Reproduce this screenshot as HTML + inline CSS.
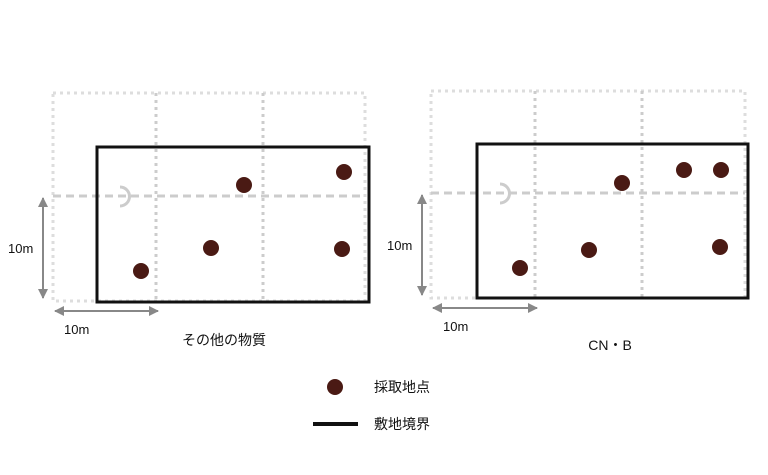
<!DOCTYPE html>
<html><head><meta charset="utf-8"><style>
html,body{margin:0;padding:0;background:#fff;width:768px;height:475px;overflow:hidden}
svg text{font-family:"Liberation Sans","Noto Sans CJK JP",sans-serif;fill:#111}
</style></head><body>
<svg width="768" height="475" viewBox="0 0 768 475" xmlns="http://www.w3.org/2000/svg">
<defs>
<marker id="ah" viewBox="0 0 10 10" refX="9" refY="5" markerWidth="5" markerHeight="5" orient="auto-start-reverse"><path d="M0,0 L10,5 L0,10 z" fill="#888"/></marker>
</defs>
<!-- Left diagram -->
<g>
<rect x="53" y="93" width="312" height="208" fill="none" stroke="#ddd" stroke-width="3" stroke-dasharray="3,4"/>
<line x1="156" y1="93" x2="156" y2="301" stroke="#ccc" stroke-width="3" stroke-dasharray="3,4"/>
<line x1="263" y1="93" x2="263" y2="301" stroke="#ccc" stroke-width="3" stroke-dasharray="3,4"/>
<line x1="53" y1="196" x2="365" y2="196" stroke="#ccc" stroke-width="3" stroke-dasharray="8,5"/>
<rect x="97" y="147" width="272" height="155" fill="none" stroke="#111" stroke-width="3"/>
<path d="M120,187 A9,9 0 0 1 120,206" fill="none" stroke="#ccc" stroke-width="3"/>
<g fill="#4a1a14">
<circle cx="141" cy="271" r="8"/><circle cx="211" cy="248" r="8"/><circle cx="244" cy="185" r="8"/><circle cx="344" cy="172" r="8"/><circle cx="342" cy="249" r="8"/>
</g>
<line x1="43" y1="198" x2="43" y2="298" stroke="#888" stroke-width="2" marker-start="url(#ah)" marker-end="url(#ah)"/>
<line x1="55" y1="311" x2="158" y2="311" stroke="#888" stroke-width="2" marker-start="url(#ah)" marker-end="url(#ah)"/>
<text x="8" y="253" font-size="13">10m</text>
<text x="64" y="334" font-size="13">10m</text>
<text x="224" y="345" font-size="14" text-anchor="middle">その他の物質</text>
</g>
<!-- Right diagram -->
<g>
<rect x="431" y="91" width="314" height="207" fill="none" stroke="#ddd" stroke-width="3" stroke-dasharray="3,4"/>
<line x1="535" y1="91" x2="535" y2="298" stroke="#ccc" stroke-width="3" stroke-dasharray="3,4"/>
<line x1="642" y1="91" x2="642" y2="298" stroke="#ccc" stroke-width="3" stroke-dasharray="3,4"/>
<line x1="431" y1="193" x2="745" y2="193" stroke="#ccc" stroke-width="3" stroke-dasharray="8,5"/>
<rect x="477" y="144" width="271" height="154" fill="none" stroke="#111" stroke-width="3"/>
<path d="M500,184 A9,9 0 0 1 500,203" fill="none" stroke="#ccc" stroke-width="3"/>
<g fill="#4a1a14">
<circle cx="520" cy="268" r="8"/><circle cx="589" cy="250" r="8"/><circle cx="622" cy="183" r="8"/><circle cx="684" cy="170" r="8"/><circle cx="721" cy="170" r="8"/><circle cx="720" cy="247" r="8"/>
</g>
<line x1="422" y1="195" x2="422" y2="295" stroke="#888" stroke-width="2" marker-start="url(#ah)" marker-end="url(#ah)"/>
<line x1="433" y1="308" x2="537" y2="308" stroke="#888" stroke-width="2" marker-start="url(#ah)" marker-end="url(#ah)"/>
<text x="387" y="250" font-size="13">10m</text>
<text x="443" y="331" font-size="13">10m</text>
<text x="610" y="350" font-size="14" text-anchor="middle">CN・B</text>
</g>
<!-- Legend -->
<circle cx="335" cy="387" r="8" fill="#4a1a14"/>
<text x="374" y="392" font-size="14">採取地点</text>
<line x1="313" y1="424" x2="358" y2="424" stroke="#111" stroke-width="4"/>
<text x="374" y="429" font-size="14">敷地境界</text>
</svg>
</body></html>
